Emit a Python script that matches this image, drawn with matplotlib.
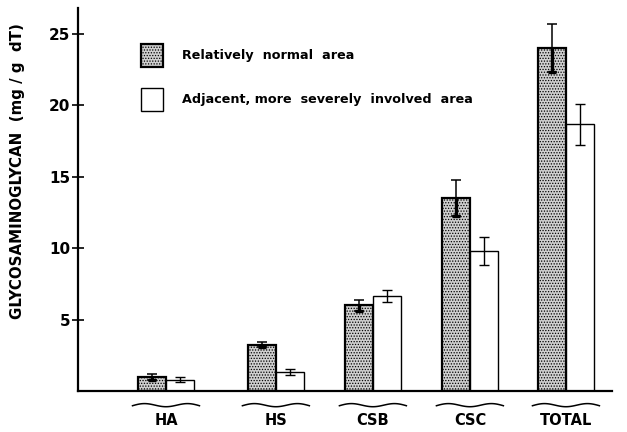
import numpy as np
import matplotlib
matplotlib.use('Agg')
import matplotlib.pyplot as plt
from matplotlib.patches import Rectangle

# data
categories = ['HA', 'HS', 'CSB', 'CSC', 'TOTAL']
normal_mean = [1.0, 3.25, 6.0, 13.5, 24.0]
normal_err = [0.2, 0.2, 0.4, 1.25, 1.7]
involved_mean = [0.8, 1.35, 6.65, 9.8, 18.65]
involved_err = [0.15, 0.2, 0.4, 1.0, 1.43]

legend_labels = ['Relatively  normal  area', 'Adjacent, more  severely  involved  area']
ylabel = 'GLYCOSAMINOGLYCAN  (mg / g  dT)'

plt.rcParams['font.family'] = ['DejaVu Sans']
plt.rcParams['font.weight'] = 'bold'
plt.rcParams['hatch.linewidth'] = 0.6

fig = plt.figure(figsize=(6.27, 4.32), dpi=100)
ax = fig.add_axes([0.1244, 0.0949, 0.8517, 0.8866])

# group centres (uneven spacing as in the original)
pos = np.array([0.907, 2.04, 3.04, 4.04, 5.03])
w = 0.289

gray_x = pos - w / 2
white_x = pos + w / 2

ax.bar(gray_x, normal_mean, width=w, facecolor='#cfcfcf', edgecolor='black',
       hatch='......', linewidth=1.6, zorder=2)
ax.bar(white_x, involved_mean, width=w, facecolor='white', edgecolor='black',
       linewidth=1.0, zorder=2)

nm = np.array(normal_mean)
ne = np.array(normal_err)
ax.errorbar(gray_x, nm, yerr=ne, fmt='none', ecolor='black', elinewidth=1.1,
            capsize=3.4, capthick=1.1, zorder=3)
# the part inside the stippled bar is drawn heavier
ax.vlines(gray_x, nm - ne, nm, colors='black', linewidth=2.4, zorder=4)
ax.hlines(nm - ne, gray_x - 0.045, gray_x + 0.045, colors='black', linewidth=2.4, zorder=4)

ax.errorbar(white_x, involved_mean, yerr=involved_err, fmt='none', ecolor='black',
            elinewidth=1.0, capsize=3.4, capthick=1.0, zorder=3)

ax.set_xlim(0, 5.505)
ax.set_ylim(0, 26.8)
ax.set_yticks([5, 10, 15, 20, 25])
ax.set_xticks([])
ax.tick_params(axis='y', direction='inout', length=9, width=1.2, labelsize=11, pad=1)
for lab in ax.get_yticklabels():
    lab.set_fontweight('bold')
ax.spines['top'].set_visible(False)
ax.spines['right'].set_visible(False)
ax.spines['left'].set_linewidth(1.6)
ax.spines['bottom'].set_linewidth(1.6)

ax.set_ylabel(ylabel, fontsize=10.8, fontweight='bold')
ax.yaxis.set_label_coords(-0.099, 0.574)

# wavy braces and category labels under the axis
t = np.linspace(-1, 1, 60)
wave = -0.12 * np.cos(np.pi * t * 1.5) - 0.05 * t ** 2
for p, name in zip(pos, categories):
    ax.plot(p + t * 0.345, -0.98 + wave, color='black', linewidth=1.1, clip_on=False)
    ax.text(p, -2.05, name, ha='center', va='center', fontsize=10.5, fontweight='bold')

# legend drawn by hand
boxes = [dict(facecolor='#cfcfcf', hatch='......', linewidth=1.6),
         dict(facecolor='white', linewidth=1.0)]
for i, (lab, st) in enumerate(zip(legend_labels, boxes)):
    y0 = 0.845 - i * 0.115
    ax.add_patch(Rectangle((0.118, y0), 0.041, 0.062, transform=ax.transAxes,
                           edgecolor='black', clip_on=False, **st))
    ax.text(0.195, y0 + 0.031, lab, transform=ax.transAxes, ha='left', va='center',
            fontsize=9.2, fontweight='bold')

fig.savefig('out.png', dpi=100)
